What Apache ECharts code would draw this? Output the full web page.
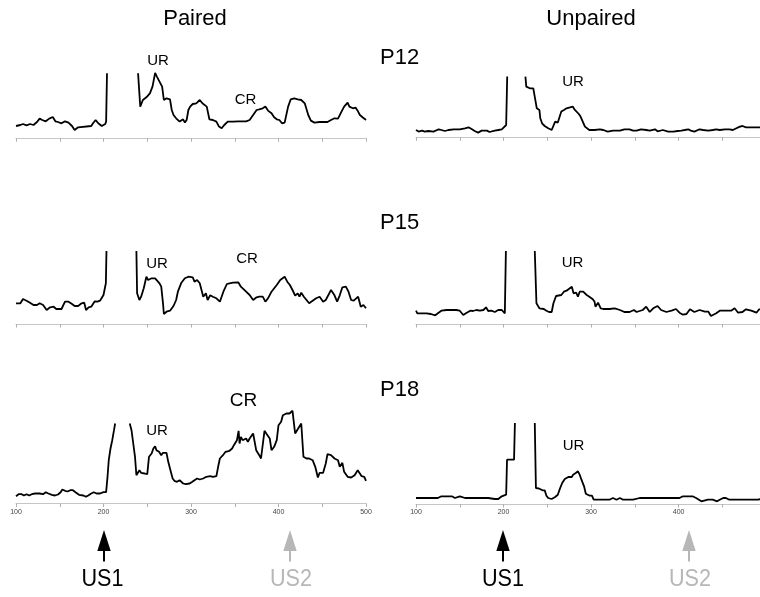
<!DOCTYPE html>
<html>
<head>
<meta charset="utf-8">
<script src="https://cdn.jsdelivr.net/npm/echarts@6/dist/echarts.min.js"></script>
<style>
html,body{margin:0;padding:0;background:#fff;}
#chart{width:760px;height:597px;}
</style>
</head>
<body>
<div id="chart"></div>
<script>
// Time axis ticks (ms) and labels
const tickValues = [100, 200, 300, 400, 500];
const tickLabels = ['100', '200', '300', '400', '500'];

// Response traces (arbitrary units), [time, value]; null = trace off-scale gap
const pairedP12 = [[100,12.3],[105,13.3],[108,14.3],[112,13],[116,14.3],[120,13.3],[124,16.3],[127,19.7],[130,18.3],[134,17],[138,19.7],[142,21.3],[145,17],[148,16.3],[152,15],[156,17],[160,15.7],[164,12.3],[167,8.3],[171,11],[173,12.3],[186,12.3],[188,15],[191,18.3],[194,15],[198,12.3],[202,14.3],[203,16.7],[204,65],[205,null],[239.5,65],[242,31.7],[245,38.3],[249,41],[253,45],[256,51.7],[259,65.5],[261,61.7],[264,56.7],[267,51.7],[269,38.3],[272,40],[276,39],[278,28.3],[280,23.3],[283,20],[287,16.7],[291,19],[293,15.7],[295,18.3],[297,28.3],[299,31.7],[302,34.3],[306,35],[310,38.3],[313,35],[314,33.3],[318,31.7],[321,19],[325,18.3],[329,16.7],[332,11.7],[335,10],[338,13.3],[342,16.7],[348,16.7],[354,17],[363,17],[367,18.3],[371,23.3],[375,28.3],[378,29],[382,30],[385,31.7],[388,27.7],[392,25],[395,21],[398,19],[401,18.3],[404,15],[407,15.7],[411,31.7],[414,39],[418,40],[422,39],[426,38.3],[430,35],[434,23.3],[437,17.7],[441,15.7],[447,16.3],[456,16.3],[460,18.3],[464,20],[468,19.7],[472,26.7],[475,31.7],[479,35.7],[481,31.7],[485,30],[488,30.7],[491,26.7],[493,23.3],[496,21],[499,19],[500,18.3]];

const unpairedP12 = [[100,7.3],[103,5.7],[107,6.7],[110,5.7],[114,6.3],[120,5.7],[126,8],[129,7.3],[133,6.3],[137,7.3],[143,8],[150,8],[156,9],[160,10],[164,8],[167,6.3],[171,4.7],[175,6.7],[181,6.7],[184,5.3],[190,6.7],[194,7.3],[198,8],[200,9],[203,12.3],[204.2,60.7],[205,null],[225,60.7],[226,50.7],[230,49],[234,49],[236,39],[238,29],[241,27.3],[242,19],[244,14],[247,11.3],[251,9],[255,7.3],[257,9],[259,15.7],[262,14.7],[264,14.7],[266,25.7],[269,27.3],[272,29],[276,30],[279,30.7],[281,28],[283,26.7],[286,23.3],[288,20.7],[291,14.7],[293,10.7],[295,9],[298,7.3],[300,9],[304,7.3],[310,8],[314,7.3],[319,5.7],[325,6.7],[333,6.7],[338,8],[344,8],[348,6.7],[352,6.7],[357,8],[363,7.3],[367,6.7],[373,8],[376,6],[382,7.3],[388,5.7],[394,5.7],[399,6.3],[403,6.7],[407,7.3],[411,8],[414,6.7],[418,5.7],[424,8],[428,7.3],[434,6.7],[439,7.3],[443,8],[447,7.3],[453,8],[458,8],[462,7.3],[466,9],[470,10.7],[473,11.3],[477,10],[485,10],[493,10],[500,10]];

const pairedP15 = [[100,20.7],[105,20.7],[108,25],[112,23.3],[116,21.3],[120,19],[124,19],[127,20.7],[131,19],[135,14],[139,16.7],[143,17.3],[146,15],[152,15],[156,22.3],[160,22.3],[164,20],[167,18],[171,18],[175,20.7],[178,21.3],[180,14],[183,16.7],[186,17.3],[190,22.7],[193,22.3],[196,23.3],[198,24],[200,29],[202.7,40.7],[203.4,73],[204,null],[237.6,73],[238.4,30.7],[241,24],[243,27.3],[246,35.7],[249,47.3],[251,44],[255,45.7],[259,45.7],[261,45.7],[264,40.7],[266,37.3],[268,20.7],[269,10],[272,12.3],[276,13.3],[280,18],[283,24],[285,32.3],[289,41.3],[293,45.7],[297,47.3],[299,48],[302,46.7],[304,42.3],[307,44],[310,40.7],[312,34],[314,27.3],[317,30.7],[319,24],[322,28.7],[325,27.3],[329,25.7],[333,22.3],[337,32.3],[341,40],[344,40.7],[348,41.3],[354,41.7],[357,37.3],[363,32.3],[367,29],[371,24],[375,26.7],[378,27.3],[382,27.3],[385,22.3],[388,25.7],[392,32.3],[394,34],[398,39],[402,44],[407,47.3],[410,42.3],[413,39],[416,34],[419,28.3],[422,30.7],[424,27.3],[426,31.3],[429,27.3],[432,24],[435,20.7],[439,23.3],[443,25.7],[447,27.3],[451,22.3],[454,24],[458,30.7],[460,34],[462,32.3],[464,28.7],[467,22.3],[470,28.7],[473,36.7],[477,37.3],[480,32.3],[483,24],[486,23.3],[488,24.7],[491,27.3],[492,24],[494,17.3],[497,19],[500,15.7]];

const unpairedP15 = [[100,13.3],[101.5,10.7],[106,10.7],[112,10.7],[117,10],[122,8.7],[125,10.7],[129,13.3],[135,14],[141,14],[143,15.3],[146,14],[150,13.3],[154,9],[157,10.7],[162,13.3],[165,13],[169,14],[173,13.3],[177,14],[180,16.7],[182.5,13],[186,13.3],[190,12],[194,14],[198,14],[201.5,10.7],[202.7,73],[203,null],[235.7,73],[237.6,20.7],[241,15.7],[243,14],[246,15],[249,13.3],[252,12],[255,12],[257,20.7],[260,28],[262,28],[266,29],[269,32.3],[272,33.3],[275,35.3],[278,37.3],[280,30.7],[283,31.3],[285,27.3],[287,32.3],[291,32.3],[295,29],[298,27.3],[302,24.7],[304,22.3],[305,17.3],[308,21.3],[311,15.7],[314,15],[321,15],[327,15.7],[333,14],[338,12],[344,12],[349,14],[352,12],[359,14],[363,17.3],[367,12],[371,15.7],[376,18],[380,14],[386,12],[392,13.3],[397,15],[401,11.3],[405,9.3],[409,10],[413,14.7],[418,12],[424,14],[430,12.3],[434,12.3],[437,8],[443,10.7],[447,13.3],[454,13.3],[460,13.3],[464,15.7],[468,11.3],[473,12],[477,14.7],[483,13.3],[489,11.3],[492,14.7],[500,14]];

const pairedP18 = [[100,7.3],[103,9.3],[106.5,9.3],[109,8],[112,9.3],[115,8],[118,9.3],[122,10],[124,10.7],[127,10],[131,9.3],[134,11.3],[137,10],[141,8.7],[144.5,8],[148,9],[151,11.3],[153,14],[156,12.7],[159,12],[162,13.3],[165,13.3],[168,11.3],[172,8.7],[177,8],[180,6.7],[182.5,8],[186,10],[189,11.3],[192,10],[196,10],[200,11.3],[203,11.3],[204.6,26.7],[206,43.3],[208,55],[210,63.3],[212,73.3],[213.3,80],[214,null],[230,80],[232,73.3],[234,60],[236,46.7],[237.6,28.3],[241,33.3],[243,30.7],[247,30],[250,29.3],[252,46.7],[255,50],[257,55],[259,57.3],[260.5,53.3],[263.5,51.7],[266,48.3],[268,50.7],[272,50.7],[274,41.7],[276,35],[279,25],[281,22.7],[284,21.7],[287,23.3],[291,20],[294,19.3],[296,17.3],[298.5,20],[301.5,21.7],[304,23.3],[307,25],[310,24],[312,26],[314,25],[317.5,26.7],[319,28.3],[322,27.3],[325,26.7],[329,27.3],[331,36.7],[333,45],[336.5,48.3],[339.5,51.7],[344,52.7],[347,55],[349,58.3],[352.5,63.3],[354.4,72.7],[355.5,60],[357,66.7],[359,63.3],[363,65],[365,61.7],[367,65],[369,66.7],[371,70],[373,70],[374.5,53.3],[376,55],[378,48.3],[380,45],[384,72.7],[386,70],[388,70],[390,65],[392,53.3],[395,56.7],[398,63.3],[400,78.3],[403,81.7],[405,88.3],[409,90],[412.5,90],[416,92.7],[419,70],[421,71.7],[426,80],[428.5,46.7],[432,45],[435,45],[439,43.3],[442,36.7],[445,26],[447,30.7],[451,30.7],[454,40],[456,49.3],[460,48.3],[464,45],[468,43.3],[470,36.7],[473,40.7],[475,31.7],[479,26.7],[483,26],[487,28.3],[490.5,33.3],[493,30],[495,27.3],[498,26.7],[500,22.7]];

const unpairedP18 = [[100,6],[105,6],[116,6],[125,6],[129,7.7],[135,7.7],[141,7.7],[144.5,6],[146,7.7],[150,7.7],[156,6],[162,6],[169,6],[175,6],[177,5],[180,6],[182.5,6],[184,5],[190,5],[194,5],[198,7.7],[200,9.3],[203,9.3],[204,44.3],[209,44.3],[212,44.3],[213,81],[214,null],[235.7,81],[237,16],[241,15.3],[244.5,13.7],[247,13.7],[249,8.3],[251,6],[255,5],[259,7],[262,9.3],[264,14.3],[267,21],[270,25],[274,27],[278,27],[279.5,29.3],[282.5,31],[285,32.7],[287,29.3],[289,24.3],[292,17.7],[294,10.3],[298.5,8.3],[301,8.3],[302,7.7],[303,4.3],[306,4.3],[321,4.3],[323,6],[325,6],[329,4.3],[333,6],[336.5,4.3],[348,4.3],[355.5,6],[371,6],[380,6],[382,7.7],[384,6],[390,6],[401,6],[405,7.7],[416,7.7],[420,6],[426,2.7],[428,4.3],[433.5,4.3],[439,4.3],[444,2.7],[447,4.3],[451,6],[454,6],[458,4.3],[470,4.3],[477,4.3],[485,4.3],[490.5,4.3],[492.4,6],[500,6]];

const panelSeries = [pairedP12, unpairedP12, pairedP15, unpairedP15, pairedP18, unpairedP18];

const FONT = '"Liberation Sans", Arial, sans-serif';
const chart = echarts.init(document.getElementById('chart'), null, {renderer: 'canvas'});

// Left column shows 100–500; right column is cut at the page edge (~493)
const gridBoxes = [
  {left: 16, top: 38.3, width: 350, height: 100, xmax: 500},
  {left: 416, top: 37.3, width: 344, height: 100, xmax: 493},
  {left: 16, top: 224, width: 350, height: 100, xmax: 500},
  {left: 416, top: 224, width: 344, height: 100, xmax: 493},
  {left: 16, top: 403.5, width: 350, height: 100, xmax: 500},
  {left: 416, top: 404, width: 344, height: 100, xmax: 493}
];

const xAxes = gridBoxes.map((g, i) => ({
  gridIndex: i, type: 'value', min: 100, max: g.xmax, interval: 50,
  axisLine: {show: true, lineStyle: {color: '#c6c6c6', width: 1}},
  axisTick: {show: true, length: 3.5, lineStyle: {color: '#b0b0b0', width: 1}},
  splitLine: {show: false},
  axisLabel: i >= 4 ? {
    show: true, fontSize: 7, color: '#444', margin: 5, fontFamily: FONT,
    showMinLabel: true, showMaxLabel: g.xmax === 500,
    formatter: v => { const k = tickValues.indexOf(v); return k >= 0 ? tickLabels[k] : ''; }
  } : {show: false}
}));

const yAxes = gridBoxes.map((g, i) => ({
  gridIndex: i, type: 'value', min: 0, max: 100, show: false
}));

const series = panelSeries.map((d, i) => ({
  type: 'line', xAxisIndex: i, yAxisIndex: i, data: d,
  showSymbol: false, symbol: 'none', connectNulls: false,
  lineStyle: {color: '#000', width: 1.8}, silent: true
}));

function txt(x, y, s, size, color, align, scaleX) {
  return {type: 'text', x: x, y: y, scaleX: scaleX || 1, silent: true,
    style: {text: s, fontSize: size, fontFamily: FONT, fill: color || '#000',
      align: align || 'center', verticalAlign: 'middle'}};
}
function arrow(x, color) {
  return {type: 'group', silent: true, children: [
    {type: 'polygon', shape: {points: [[x - 6.7, 551], [x, 530], [x + 6.7, 551]]}, style: {fill: color}},
    {type: 'rect', shape: {x: x - 1, y: 550, width: 2, height: 11.5}, style: {fill: color}}
  ]};
}
const GRAY = '#b7b7b7';
const graphics = [
  txt(195, 19, 'Paired', 22),
  txt(591, 19, 'Unpaired', 22),
  txt(380, 57.5, 'P12', 22, '#000', 'left'),
  txt(380, 223, 'P15', 22, '#000', 'left'),
  txt(380, 389.5, 'P18', 22, '#000', 'left'),
  txt(158, 61, 'UR', 15), txt(245.5, 100, 'CR', 15), txt(573, 82, 'UR', 15),
  txt(157, 263.5, 'UR', 15), txt(247, 259, 'CR', 15), txt(572.5, 262.5, 'UR', 15),
  txt(157, 430.5, 'UR', 15), txt(243.5, 401, 'CR', 19), txt(573.5, 446, 'UR', 15),
  arrow(104, '#000'), arrow(290, GRAY), arrow(503, '#000'), arrow(689, GRAY),
  txt(102.5, 579, 'US1', 24, '#000', 'center', 0.9),
  txt(291, 579, 'US2', 24, GRAY, 'center', 0.9),
  txt(503, 579, 'US1', 24, '#000', 'center', 0.9),
  txt(690, 579, 'US2', 24, GRAY, 'center', 0.9)
];

chart.setOption({
  animation: false,
  backgroundColor: '#fff',
  grid: gridBoxes.map(g => ({left: g.left, top: g.top, width: g.width, height: g.height, containLabel: false})),
  xAxis: xAxes,
  yAxis: yAxes,
  series: series,
  graphic: graphics
});
</script>
</body>
</html>
